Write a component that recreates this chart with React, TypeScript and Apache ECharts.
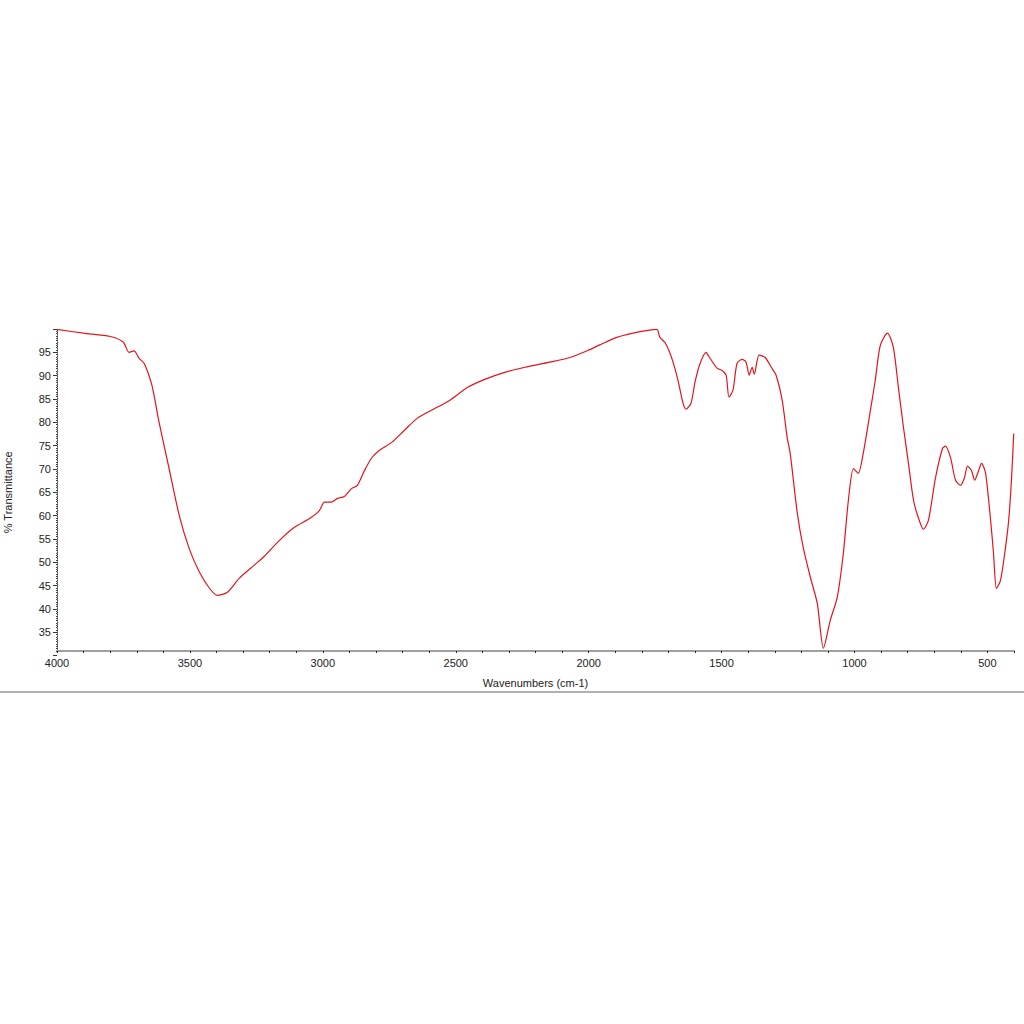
import React, { useEffect, useRef } from "react";
import * as echarts from "echarts";

const wavenumbers = [
  4000, 3900, 3800, 3751, 3729, 3710, 3691, 3672, 3646, 3634, 3616, 3578, 3540, 3503, 3465, 3427,
  3397, 3359, 3314, 3258, 3220, 3163, 3107, 3050, 3013, 2994, 2968, 2945, 2919, 2892, 2870, 2843,
  2817, 2787, 2741, 2693, 2644, 2591, 2523, 2455, 2391, 2316, 2240, 2146, 2071, 2003, 1958, 1894,
  1833, 1777, 1743, 1732, 1713, 1694, 1679, 1664, 1645, 1634, 1615, 1600, 1581, 1558, 1551, 1517,
  1498, 1483, 1472, 1457, 1442, 1423, 1408, 1396, 1385, 1377, 1359, 1336, 1313, 1295, 1272, 1253,
  1242, 1215, 1193, 1166, 1140, 1117, 1091, 1065, 1042, 1023, 1004, 986, 967, 940, 922, 903,
  876, 854, 835, 816, 797, 778, 760, 741, 722, 695, 669, 658, 639, 620, 601, 586,
  575, 560, 548, 533, 522, 507, 488, 477, 466, 451, 435, 420, 409, 401,
];

const transmittance = [
  99.9, 99.1, 98.4, 97.2, 95.0, 95.3, 93.7, 92.6, 88.6, 85.5, 80.0, 70.0, 60.0, 53.0, 48.0, 44.5,
  42.9, 43.6, 46.6, 49.4, 51.3, 54.7, 57.5, 59.4, 61.1, 62.9, 62.9, 63.7, 64.1, 65.8, 66.5, 69.7,
  72.3, 74.0, 75.7, 78.3, 80.9, 82.6, 84.7, 87.5, 89.2, 90.7, 91.8, 92.9, 93.9, 95.4, 96.6, 98.2,
  99.1, 99.7, 99.9, 98.2, 97.1, 94.8, 92.2, 89.0, 84.1, 82.8, 84.1, 88.6, 92.6, 95.0, 94.4, 91.6,
  91.1, 90.1, 85.4, 86.9, 92.6, 93.5, 92.9, 90.1, 91.8, 90.3, 94.4, 93.9, 91.8, 90.1, 84.7, 76.6,
  73.4, 60.5, 53.2, 46.8, 41.2, 31.6, 37.6, 42.5, 51.9, 63.3, 70.1, 69.1, 73.4, 82.6, 89.0, 96.5,
  99.1, 96.1, 87.5, 79.0, 71.2, 63.3, 59.6, 57.1, 59.0, 68.2, 74.4, 74.9, 72.5, 67.6, 66.5, 68.2,
  70.6, 69.7, 67.6, 69.7, 71.2, 69.1, 59.0, 51.9, 44.4, 46.1, 51.9, 59.0, 68.2, 77.6,
];

const xLabelValues = [500, 1000, 1500, 2000, 2500, 3000, 3500, 4000];
const yLabelValues = [35, 40, 45, 50, 55, 60, 65, 70, 75, 80, 85, 90, 95];

export default function App() {
  const ref = useRef<HTMLDivElement>(null);
  useEffect(() => {
    if (!ref.current) return;
    const chart = echarts.init(ref.current, null, { renderer: "svg" });
    const font = "Liberation Sans, Arial, sans-serif";
    // y scale: 4.667 px per unit; main grid spans 31..100, label grid spans 30..100
    const top = 329;
    const bottomMain = 1024 - 651;
    const bottomLabels = bottomMain - 4.667;
    chart.setOption({
      animation: false,
      backgroundColor: "#ffffff",
      grid: [
        { left: 57, right: 10, top, bottom: bottomMain, containLabel: false, outerBoundsMode: "none" },
        { left: 57, right: 10, top, bottom: bottomLabels, containLabel: false, outerBoundsMode: "none" },
      ],
      xAxis: [
        {
          type: "value",
          gridIndex: 0,
          inverse: true,
          min: 400,
          max: 4000,
          interval: 100,
          name: "Wavenumbers (cm-1)",
          nameLocation: "middle",
          nameGap: 26,
          nameTextStyle: { fontFamily: font, fontSize: 11, color: "#222" },
          axisLine: { show: true, lineStyle: { color: "#a0a0a0", width: 2 } },
          axisTick: { show: true, length: 2, lineStyle: { color: "#222", width: 1 } },
          axisLabel: {
            fontFamily: font,
            fontSize: 11,
            color: "#222",
            margin: 6,
            formatter: (v: number) => (xLabelValues.includes(Math.round(v)) ? String(Math.round(v)) : ""),
          },
          splitLine: { show: false },
        },
        {
          type: "value",
          gridIndex: 1,
          show: false,
          min: 400,
          max: 4000,
        },
      ],
      yAxis: [
        {
          type: "value",
          gridIndex: 0,
          min: 31,
          max: 100,
          interval: 0.5,
          axisLine: { show: true, lineStyle: { color: "#444", width: 1, type: "dotted" } },
          axisTick: { show: true, length: 1, lineStyle: { color: "#444", width: 1 } },
          axisLabel: { show: false },
          splitLine: { show: false },
        },
        {
          type: "value",
          gridIndex: 1,
          min: 30,
          max: 100,
          interval: 5,
          name: "% Transmittance",
          nameLocation: "middle",
          nameGap: 44,
          nameTextStyle: { fontFamily: font, fontSize: 11, color: "#222" },
          axisLine: { show: false },
          axisTick: {
            show: true,
            length: 4,
            lineStyle: { color: "#333", width: 1 },
          },
          axisLabel: {
            fontFamily: font,
            fontSize: 11,
            color: "#222",
            margin: 6,
            formatter: (v: number) => (yLabelValues.includes(Math.round(v)) ? String(Math.round(v)) : ""),
          },
          splitLine: { show: false },
        },
      ],
      graphic: [
        {
          type: "line",
          shape: { x1: 0, y1: 692, x2: 1024, y2: 692 },
          style: { stroke: "#b0b0b0", lineWidth: 2 },
        },
      ],
      series: [
        {
          type: "line",
          xAxisIndex: 0,
          yAxisIndex: 0,
          data: wavenumbers.map((w, i) => [w, transmittance[i]]),
          showSymbol: false,
          smooth: 0.25,
          lineStyle: { color: "#e5141c", width: 1.2 },
        },
      ],
    });
    return () => chart.dispose();
  }, []);
  return (
    <div
      ref={ref}
      style={{ position: "fixed", left: 0, top: 0, width: 1024, height: 1024, background: "#fff" }}
    />
  );
}
